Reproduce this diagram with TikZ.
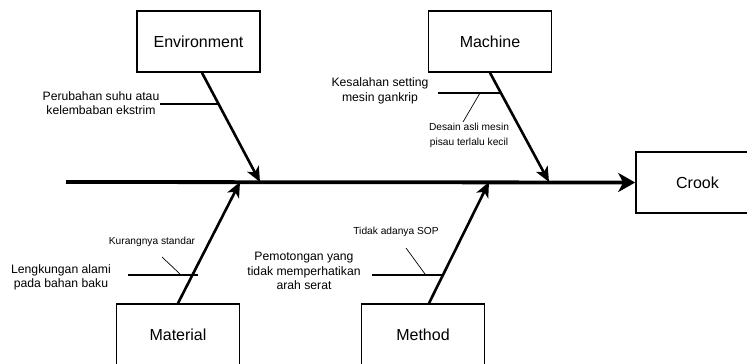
\documentclass[tikz,border=0pt]{standalone}
\usepackage{fontspec}
\setmainfont{Liberation Sans}
\usetikzlibrary{arrows.meta}

\begin{document}
\begin{tikzpicture}[x=1pt,y=-1pt]
\tikzstyle{cat}=[draw,line width=1.6pt,minimum width=123pt,minimum height=61pt,inner sep=0pt,font=\fontsize{16}{18}\selectfont]
\tikzstyle{cause}=[align=center,inner sep=0pt,font=\fontsize{12.2}{14.5}\selectfont]
\tikzstyle{sub}=[align=center,inner sep=0pt,font=\fontsize{10.2}{14.5}\selectfont]
\tikzstyle{spine}=[line width=3.8pt,-{Stealth[length=17pt,width=19pt,inset=5pt]}]
\tikzstyle{bone}=[line width=2.6pt,-{Stealth[length=15pt,width=13pt,inset=4pt]}]
\useasboundingbox (0,0) rectangle (747,364);

\node [cat] (env) at (198.5,41.5) {Environment};
\node [cat] (mac) at (490,41.5) {Machine};
\node [cat] (mat) at (178,334.5) {Material};
\node [cat] (met) at (423,334.5) {Method};
\node [cat] (crook) at (697.5,182.5) {Crook};

\coordinate (tail) at (66,182);
\coordinate (tE) at (260,182);
\coordinate (tC) at (549,182);
\coordinate (tM) at (240,182);
\coordinate (tD) at (489,182);

% main bones
\draw[spine] (tail) -- (crook.west);
\draw[bone] (env.south -| 202,0) -- (tE);
\draw[bone] (mac.south) -- (tC);
\draw[bone] (mat.north) -- (tM);
\draw[bone] (met.north -| 429,0) -- (tD);

% causes
\node [cause] (pe) at (101,103) {Perubahan suhu atau\\kelembaban ekstrim};
\node [cause] (ks) at (380,91) {Kesalahan setting\\mesin gankrip};
\node [sub] (ds) at (469,135.5) {Desain asli mesin\\pisau terlalu kecil};
\node [cause] (lk) at (61,277.5) {Lengkungan alami\\pada bahan baku};
\node [sub] (ku) at (152,242) {Kurangnya standar};
\node [cause] (pm) at (304,271) {Pemotongan yang\\tidak memperhatikan\\arah serat};
\node [sub] (ti) at (396,232) {Tidak adanya SOP};

\coordinate (peL) at (160,104);
\coordinate (peR) at (219,104);
\coordinate (ksL) at (438,93);
\coordinate (ksR) at (501,93);
\coordinate (dsA) at (480,93);
\coordinate (dsB) at (463,122);
\coordinate (lkL) at (128,275);
\coordinate (lkR) at (198,275);
\coordinate (kuA) at (162,257);
\coordinate (kuB) at (180,274);
\coordinate (pmL) at (372,275);
\coordinate (pmR) at (443,275);
\coordinate (tiA) at (406,248);
\coordinate (tiB) at (425,274);

\path[line width=1.3pt]
(peL) edge (peR)
(ksL) edge (ksR)
(lkL) edge (lkR)
(pmL) edge (pmR);
\path[line width=0.7pt]
(dsA) edge (dsB)
(kuA) edge (kuB)
(tiA) edge (tiB);
\end{tikzpicture}
\end{document}
